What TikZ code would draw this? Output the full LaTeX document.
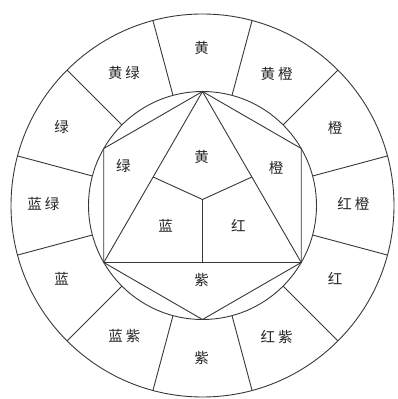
\documentclass[tikz,border=0pt]{standalone}
\usepackage{fontspec}
\newfontfamily\cjk{Noto Sans CJK SC}
\usetikzlibrary{calc}
\begin{document}
\begin{tikzpicture}[x=1pt,y=1pt,
  wheelline/.style={draw=black!78, line width=0.9pt},
  lbl/.style={font=\cjk\fontsize{14.5}{16}\selectfont, text=black!85, inner sep=0pt},
  gap/.style={}]
\useasboundingbox (0,0) rectangle (398,399);
\fill[white] (0,0) rectangle (398,399);
\coordinate (O) at (202.5,193.5);
\def\Ro{191.5}
\def\Ri{114}
\draw[wheelline] (O) circle (\Ro);
\draw[wheelline] (O) circle (\Ri);
% spokes of the outer ring
\foreach \a in {15,45,...,345} {
  \coordinate (si\a) at ($(O)+(\a:\Ri)$);
  \coordinate (so\a) at ($(O)+(\a:\Ro)$);
  \draw[wheelline] (si\a) -- (so\a);
}
% triangle and hexagon vertices
\coordinate (T)  at ($(O)+(90:\Ri)$);
\coordinate (L)  at ($(O)+(210:\Ri)$);
\coordinate (R)  at ($(O)+(330:\Ri)$);
\coordinate (UL) at ($(O)+(150:\Ri)$);
\coordinate (UR) at ($(O)+(30:\Ri)$);
\coordinate (B)  at ($(O)+(270:\Ri)$);
\coordinate (J)  at (202.5,199.5);
\coordinate (ML) at ($(T)!0.5!(L)$);
\coordinate (MR) at ($(T)!0.5!(R)$);
\coordinate (MB) at ($(L)!0.5!(R)$);
\draw[wheelline] (T) -- (L) -- (R) -- cycle;
\draw[wheelline] (T) -- (UL) -- (L);
\draw[wheelline] (T) -- (UR) -- (R);
\draw[wheelline] (L) -- (B) -- (R);
\draw[wheelline] (J) -- (ML);
\draw[wheelline] (J) -- (MR);
\draw[wheelline] (J) -- (MB);
% outer labels
\node[lbl] (o1)  at (201.7,350.7) {黄};
\node[lbl] (o2)  at (276.7,325)   {黄\hspace{3pt}橙};
\node[lbl] (o3)  at (335,270.7)   {橙};
\node[lbl] (o4)  at (353.3,195)   {红\hspace{3pt}橙};
\node[lbl] (o5)  at (335,120.7)   {红};
\node[lbl] (o6)  at (276.7,62.3)  {红\hspace{3pt}紫};
\node[lbl] (o7)  at (201.7,40.7)  {紫};
\node[lbl] (o8)  at (124.3,63)    {蓝\hspace{3pt}紫};
\node[lbl] (o9)  at (61.7,120.7)  {蓝};
\node[lbl] (o10) at (43.3,195)    {蓝\hspace{3pt}绿};
\node[lbl] (o11) at (61.7,272.3)  {绿};
\node[lbl] (o12) at (124,325.7)   {黄\hspace{3pt}绿};
% inner labels
\node[lbl] (i1) at (201.7,242.3) {黄};
\node[lbl] (i2) at (123.3,233.3) {绿};
\node[lbl] (i3) at (276,231.3)   {橙};
\node[lbl] (i4) at (165.7,173)   {蓝};
\node[lbl] (i5) at (238.3,173)   {红};
\node[lbl] (i6) at (201.7,119)   {紫};
\end{tikzpicture}
\end{document}
